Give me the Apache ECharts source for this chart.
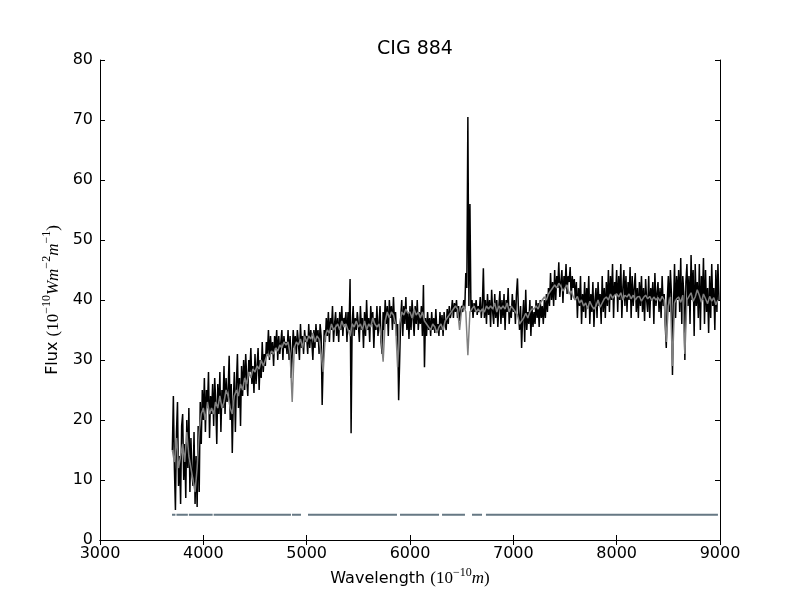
<!DOCTYPE html>
<html>
<head>
<meta charset="utf-8">
<title>CIG 884</title>
<script src="https://cdn.jsdelivr.net/npm/echarts@6/dist/echarts.min.js"></script>
<style>
  html, body { margin: 0; padding: 0; background: #fff; }
  #main { width: 800px; height: 600px; }
</style>
</head>
<body>
<div id="main"></div>
<script>
// observed spectrum, one value every 10 A from 3700 A
var obsStart = 3700, obsStep = 10;
var obsFlux = [
  15, 24, 12, 5, 18, 23, 9, 14, 6, 19,
  21, 10, 16, 7, 20, 12, 22, 8, 17, 11,
  9, 18, 6, 14, 5.5, 19, 8, 23, 16, 25,
  20, 27, 18, 25, 22, 28, 17, 24, 21, 26,
  19, 27, 23, 16, 26, 21, 28, 18, 25, 22,
  29, 21, 27, 23, 25, 30.7, 20, 26, 14.5, 23,
  28, 18, 26, 31, 22, 27, 19, 29, 24, 30,
  25, 31, 27, 24, 30, 28, 32, 26, 29, 24.5,
  31, 26, 29, 32, 25, 30, 27, 33, 28, 31,
  29, 33, 31, 35, 30, 34, 31, 33, 29, 34,
  32, 35, 30, 34, 31, 33, 35, 30, 34, 32,
  33, 31, 35, 30, 34, 27, 31, 35, 32, 34,
  31, 35, 33, 30, 36, 32, 34, 31, 35, 33,
  34, 31, 36, 32, 35, 33, 30, 35, 32, 36,
  33, 35, 31, 36, 34, 22.5, 30, 35, 33, 37,
  34, 38, 33, 37, 35, 39, 33, 36, 38, 34,
  37, 33, 38, 35, 39, 34, 37, 36, 38, 33,
  38, 35, 43.5, 17.8, 36, 39, 34, 37, 35, 38,
  36, 33, 39, 35, 37, 32, 38, 34, 40, 35,
  37, 33, 39, 36, 38, 32, 37, 35, 39, 34,
  36, 39, 33, 31, 38, 35, 40, 36, 39, 34,
  40, 37, 39, 35, 40.5, 36, 38, 34, 36, 23.3,
  30, 37, 40, 34, 39, 36, 40.5, 35, 38, 33.5,
  39, 35, 40, 37, 34, 39, 36, 40, 35, 38,
  36, 39, 34, 42.5, 28.8, 37, 34, 38, 35, 37,
  34, 38, 35, 37, 34.5, 38.5, 35, 36, 34, 38,
  35, 37.5, 34, 38, 36, 35, 38.5, 36, 39, 37,
  38, 40, 37, 39.5, 38, 40, 37, 39, 36.5, 38,
  39, 38, 40, 38.5, 44.5, 42, 70.5, 39, 56, 38,
  40, 37, 39.5, 38, 40, 37.5, 39, 38, 40.5, 37,
  39, 45.3, 37, 40, 36, 41, 37.5, 40, 35.5, 41.7,
  38, 36, 41, 37, 40, 35.5, 39, 41.5, 36, 40,
  37, 41, 35, 40, 38, 42, 36, 39, 37, 41,
  38, 40, 36, 41, 43.6, 38, 35, 39, 32, 37,
  40, 33, 41.7, 35, 38, 36, 40, 34, 39, 35.5,
  38, 36, 40, 37, 39.5, 35.5, 40, 37, 39, 36,
  40, 37, 41, 38, 42, 39, 44.5, 40, 43, 39,
  45, 40, 44, 42, 46.3, 40.5, 43, 45, 39.5, 44,
  42, 46, 41, 44, 43, 45.5, 40, 44, 42, 43.5,
  40, 43, 37, 42, 39, 44, 36, 41, 38, 43,
  37, 42, 39, 44, 36, 41, 38, 43, 35.5, 40,
  42, 37, 43, 39, 41, 36, 44, 38, 42, 37,
  43, 39, 45, 38, 44, 40, 46, 37, 43, 41,
  45, 38, 44, 40, 46, 37, 42, 45, 39, 44,
  38, 43, 40, 45.5, 37, 44, 39, 42, 44.5, 38,
  42, 37, 43, 39, 44, 38, 42, 36.5, 43.5, 40,
  38, 44, 37, 42, 40, 43, 36, 44.5, 39, 41,
  43, 38, 42, 37, 44, 39, 41, 36, 32, 40,
  44, 38, 45, 41, 27.5, 39, 46, 37, 44, 40,
  45, 38, 47, 36, 44, 41, 30, 43, 46, 39,
  44, 36, 47.5, 40, 45, 34, 46, 39, 43, 37,
  46, 35, 44, 40, 47, 36, 45, 38, 42, 34.5,
  44, 37, 46, 39, 42, 35, 45, 38, 46, 40
];

// fitted model, one value every 20 A from 3700 A
var fitStart = 3700, fitStep = 20;
var fitFlux = [
  15, 13, 17, 12, 14,
  16, 13, 18, 14, 12,
  10, 8, 12, 18, 21,
  22, 20, 23, 21, 22,
  21, 23, 22, 24, 22,
  23, 25, 24, 22, 21,
  24, 25, 24, 26, 25,
  27, 26, 28, 27, 28.5,
  28, 29, 28.5, 30, 29,
  30, 31, 30.5, 31.5, 31,
  32, 31.5, 32.5, 32, 33,
  32.5, 33, 31, 23, 32,
  33, 32.5, 33.5, 32, 34,
  33, 34, 33.5, 34.5, 33,
  34, 33.5, 31, 28, 34,
  35, 34.5, 36, 35, 35.5,
  36, 35, 36.5, 35.5, 36,
  35, 34, 36, 35.5, 36.5,
  35.5, 36, 35, 36.5, 35,
  36, 35.5, 37, 36, 35.5,
  36, 34, 29.7, 36.5, 38,
  37, 38, 37.5, 36, 28.8,
  36, 38, 37.5, 38.5, 37.8,
  38, 37, 38.5, 37.5, 38,
  37, 38, 36.5, 36, 35.5,
  35, 36, 35.5, 34.5, 35.5,
  36, 35, 36.5, 37, 37.5,
  38, 38.5, 39, 38.5, 35,
  38.5, 39, 38, 30.8, 38,
  38.5, 39, 38, 38.5, 38,
  38.5, 38, 39, 38.5, 39,
  38.5, 39.5, 38, 39, 38.5,
  39, 38.5, 39.5, 38, 39,
  38.5, 38, 37.5, 36, 36.5,
  37, 37.8, 37, 38, 38.5,
  38.5, 39, 38.5, 39.5, 40,
  40.5, 40, 41, 41.5, 42,
  42.5, 42, 42.8, 42.3, 41.5,
  42, 42.5, 41, 41.5, 40.5,
  40, 40.6, 39.5, 40, 39,
  39.5, 38.5, 39.8, 39, 38.5,
  39, 40, 38.8, 39.5, 40.2,
  40.5, 40, 41, 40.3, 40.8,
  41, 40.5, 41.2, 40, 40.8,
  40.5, 41, 40.2, 40.8, 40,
  40.5, 40.6, 39.8, 40.4, 40.8,
  40.2, 40.6, 39.9, 40.5, 40,
  40.4, 39.8, 40.6, 40, 33,
  39, 40.5, 29, 39.5, 40.2,
  40.5, 39.6, 40.8, 31, 40,
  40.6, 41.2, 39.8, 40.5, 41.7,
  40.8, 39.6, 41, 40.2, 39.4,
  40.6, 39.8, 40.4, 39.2, 40
];

// good-pixel mask, drawn as a flat line with gaps
var maskLevel = 4.2;
var maskRanges = [
  [3697, 3730], [3740, 3850], [3860, 4090], [4100, 4848],
  [4858, 4945], [5013, 5874], [5903, 6281], [6310, 6532],
  [6600, 6697], [6735, 8980]
];

var xTicks = { min: 3000, max: 9000, step: 1000 };
var yTicks = { min: 0, max: 80, step: 10 };

function toPairs(start, step, values) {
  return values.map(function (v, i) { return [start + i * step, v]; });
}

var maskData = [];
maskRanges.forEach(function (r) {
  maskData.push([r[0], maskLevel], [r[1], maskLevel], null);
});

var tickFont = {
  fontFamily: 'DejaVu Sans', fontSize: 16, color: '#000',
  formatter: function (v) { return String(v); }
};
var mathRich = {
  t: { fontFamily: 'DejaVu Sans', fontSize: 16, color: '#000', lineHeight: 24 },
  m: { fontFamily: 'Liberation Serif', fontSize: 17, color: '#000', lineHeight: 24 },
  i: { fontFamily: 'Liberation Serif', fontStyle: 'italic', fontSize: 17, color: '#000', lineHeight: 24 },
  s: { fontFamily: 'Liberation Serif', fontSize: 12, color: '#000', lineHeight: 11, verticalAlign: 'top' }
};

var chart = echarts.init(document.getElementById('main'));
var option = {
  animation: false,
  backgroundColor: '#fff',
  title: {
    text: 'CIG 884',
    left: 410,
    top: 35,
    textAlign: 'center',
    textStyle: { fontFamily: 'DejaVu Sans', fontSize: 19, fontWeight: 'normal', color: '#000' }
  },
  grid: { left: 100, right: 80, top: 60, bottom: 60, containLabel: false },
  xAxis: [
    {
      type: 'value', min: xTicks.min, max: xTicks.max, interval: xTicks.step,
      position: 'bottom',
      name: '{t|Wavelength }{m|(10}{s|−10}{i|m}{m|)}',
      nameLocation: 'middle', nameGap: 25,
      nameTextStyle: { rich: mathRich },
      axisLine: { lineStyle: { color: '#000', width: 1 } },
      axisTick: { inside: true, length: 5, lineStyle: { color: '#000' } },
      axisLabel: Object.assign({ margin: 6 }, tickFont),
      splitLine: { show: false }
    },
    {
      type: 'value', min: xTicks.min, max: xTicks.max, interval: xTicks.step,
      position: 'top',
      axisLine: { lineStyle: { color: '#000', width: 1 } },
      axisTick: { inside: true, length: 5, lineStyle: { color: '#000' } },
      axisLabel: { show: false },
      splitLine: { show: false }
    }
  ],
  yAxis: [
    {
      type: 'value', min: yTicks.min, max: yTicks.max, interval: yTicks.step,
      position: 'left',
      name: '{t|Flux }{m|(10}{s|−10}{i|Wm}{s|−2}{i|m}{s|−1}{m|)}',
      nameLocation: 'middle', nameGap: 34,
      nameTextStyle: { rich: mathRich },
      axisLine: { lineStyle: { color: '#000', width: 1 } },
      axisTick: { inside: true, length: 5, lineStyle: { color: '#000' } },
      axisLabel: Object.assign({ margin: 7 }, tickFont),
      splitLine: { show: false }
    },
    {
      type: 'value', min: yTicks.min, max: yTicks.max, interval: yTicks.step,
      position: 'right',
      axisLine: { lineStyle: { color: '#000', width: 1 } },
      axisTick: { inside: true, length: 5, lineStyle: { color: '#000' } },
      axisLabel: { show: false },
      splitLine: { show: false }
    }
  ],
  series: [
    {
      name: 'observed', type: 'line', xAxisIndex: 0, yAxisIndex: 0,
      data: toPairs(obsStart, obsStep, obsFlux),
      showSymbol: false, symbol: 'none',
      lineStyle: { color: '#000', width: 1.5 },
      z: 2
    },
    {
      name: 'model', type: 'line', xAxisIndex: 0, yAxisIndex: 0,
      data: toPairs(fitStart, fitStep, fitFlux),
      showSymbol: false, symbol: 'none',
      lineStyle: { color: '#808080', width: 1.5 },
      z: 3
    },
    {
      name: 'mask', type: 'line', xAxisIndex: 0, yAxisIndex: 0,
      data: maskData,
      connectNulls: false,
      showSymbol: false, symbol: 'none',
      lineStyle: { color: '#667884', width: 2 },
      z: 4
    }
  ]
};
chart.setOption(option);
</script>
</body>
</html>
